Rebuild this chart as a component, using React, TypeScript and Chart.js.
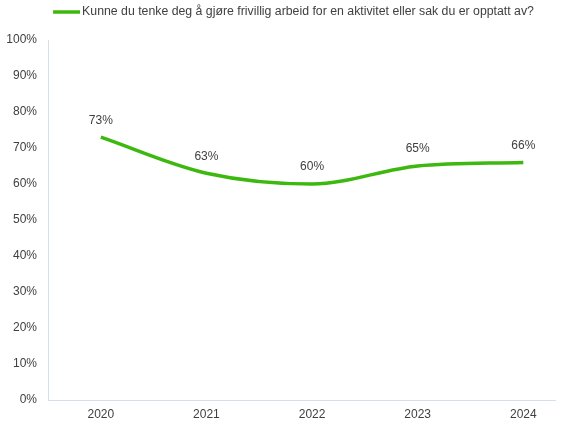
import React, { useEffect, useRef } from "react";
import { Chart, registerables } from "chart.js";

Chart.register(...registerables);

const years = [2020, 2021, 2022, 2023, 2024];
const values = [73, 63, 60, 65, 66];
const yTicks = [0, 10, 20, 30, 40, 50, 60, 70, 80, 90, 100];
const seriesLabel = "Kunne du tenke deg å gjøre frivillig arbeid for en aktivitet eller sak du er opptatt av?";

const GREEN = "#3cb80f";
const TEXT = "#404040";
const AXIS = "#d6dfe9";
const FONT = "12px 'Liberation Sans', Arial, sans-serif";

const labelPlugin = {
  id: "pointLabels",
  afterDatasetsDraw(chart: any) {
    const ctx = chart.ctx;
    const meta = chart.getDatasetMeta(0);
    ctx.save();
    ctx.font = FONT;
    ctx.fillStyle = TEXT;
    ctx.textAlign = "center";
    ctx.textBaseline = "middle";
    meta.data.forEach((pt: any, i: number) => {
      ctx.fillText(values[i] + "%", pt.x, pt.y - 17);
    });
    ctx.restore();
  },
};

const legendPlugin = {
  id: "customLegend",
  afterDraw(chart: any) {
    const ctx = chart.ctx;
    ctx.save();
    ctx.font = "12.3px 'Liberation Sans', Arial, sans-serif";
    const textW = ctx.measureText(seriesLabel).width;
    const lineW = 27;
    const gap = 2;
    const total = lineW + gap + textW;
    const x0 = (chart.width - total) / 2 + 12;
    const y = 12;
    ctx.strokeStyle = GREEN;
    ctx.lineWidth = 3.5;
    ctx.beginPath();
    ctx.moveTo(x0, y);
    ctx.lineTo(x0 + lineW, y);
    ctx.stroke();
    ctx.fillStyle = TEXT;
    ctx.textAlign = "left";
    ctx.textBaseline = "middle";
    ctx.fillText(seriesLabel, x0 + lineW + gap, y);
    ctx.restore();
  },
};

export default function App() {
  const ref = useRef<HTMLCanvasElement | null>(null);
  useEffect(() => {
    if (!ref.current) return;
    const chart = new Chart(ref.current, {
      type: "line",
      data: {
        datasets: [
          {
            label: seriesLabel,
            data: years.map((y, i) => ({ x: y, y: values[i] })),
            borderColor: GREEN,
            backgroundColor: GREEN,
            borderWidth: 3.5,
            pointRadius: 0,
            tension: 0.4,
            cubicInterpolationMode: "monotone",
          },
        ],
      },
      options: {
        animation: false,
        responsive: true,
        maintainAspectRatio: false,
        layout: { padding: { left: 0, right: 8, top: 40, bottom: 0 } },
        plugins: {
          legend: { display: false },
          tooltip: { enabled: false },
        },
        scales: {
          x: {
            type: "linear",
            min: 2019.5,
            max: 2024.3,
            afterBuildTicks(scale: any) {
              scale.ticks = years.map((v) => ({ value: v }));
            },
            afterFit(scale: any) {
              scale.height = 21;
            },
            grid: { display: false, drawTicks: false },
            border: { display: true, color: AXIS, width: 1 },
            ticks: {
              padding: 7,
              color: TEXT,
              font: { size: 12, family: "'Liberation Sans', Arial, sans-serif" },
              callback: (v: any) => String(v),
            },
          },
          y: {
            min: 0,
            max: 100,
            afterBuildTicks(scale: any) {
              scale.ticks = yTicks.map((v) => ({ value: v }));
            },
            afterFit(scale: any) {
              scale.width = 48;
            },
            grid: { display: false, drawTicks: false },
            border: { display: true, color: AXIS, width: 1 },
            ticks: {
              padding: 11,
              color: TEXT,
              font: { size: 12, family: "'Liberation Sans', Arial, sans-serif" },
              callback: (v: any) => v + "%",
            },
          },
        },
      } as any,
      plugins: [labelPlugin, legendPlugin],
    });
    return () => chart.destroy();
  }, []);
  return (
    <div style={{ position: "absolute", left: 0, top: 0, width: 563, height: 421, background: "#fff" }}>
      <canvas ref={ref} />
    </div>
  );
}
